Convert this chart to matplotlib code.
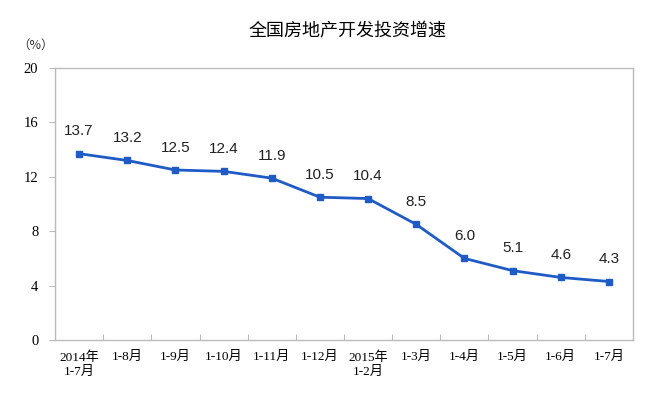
import matplotlib
matplotlib.use("Agg")
import matplotlib.pyplot as plt

categories = ["2014年\n1-7月", "1-8月", "1-9月", "1-10月", "1-11月", "1-12月",
              "2015年\n1-2月", "1-3月", "1-4月", "1-5月", "1-6月", "1-7月"]
values = [13.7, 13.2, 12.5, 12.4, 11.9, 10.5, 10.4, 8.5, 6.0, 5.1, 4.6, 4.3]
yticks = [0, 4, 8, 12, 16, 20]

serif_cjk = ["Liberation Serif", "Noto Sans CJK SC"]
plt.rcParams['font.family'] = ["Liberation Sans", "Noto Sans CJK SC"]

fig = plt.figure(figsize=(6.48, 3.95), dpi=100)
ax = fig.add_axes([55/648, 1-340/395, (633-55)/648, (340-68)/395])

x = list(range(len(values)))
color = "#1f5bc6"
ax.plot(x, values, color=color, lw=2, marker="s", ms=5, mfc=color, mec=color)
for xi, v in zip(x, values):
    ax.annotate(f"{v:.1f}", (xi, v), xytext=(0, 11), textcoords="offset points",
                ha="center", va="bottom", fontsize=11, color="#222222",
                family="Liberation Sans")

ax.set_xlim(-0.5, len(values) - 0.5)
ax.set_ylim(0, 20)
ax.set_yticks(yticks)
ax.set_yticklabels([str(t) for t in yticks], family=serif_cjk, fontsize=10.5)
ax.set_xticks([i + 0.5 for i in range(len(values) - 1)])
ax.set_xticklabels([])
ax.set_xticks(x, minor=True)
ax.set_xticklabels(categories, minor=True, family=serif_cjk, fontsize=9.5, linespacing=1.25)
ax.tick_params(axis="x", which="major", direction="in", length=4, color="#bbbbbb")
ax.tick_params(axis="x", which="minor", length=0, pad=8)
ax.tick_params(axis="y", direction="out", length=4, color="#bbbbbb", pad=8)
for s in ax.spines.values():
    s.set_color("#bbbbbb")
    s.set_linewidth(1)

fig.text(348/648, 1-31/395, "全国房地产开发投资增速", ha="center", va="center",
         fontsize=13, family=["Noto Sans CJK SC"])
fig.text(36/648, 1-45/395, "（%）", ha="center", va="center", fontsize=9,
         family=["Noto Sans CJK SC"], color="#333333")

fig.savefig("out.png", dpi=100, facecolor="white")
